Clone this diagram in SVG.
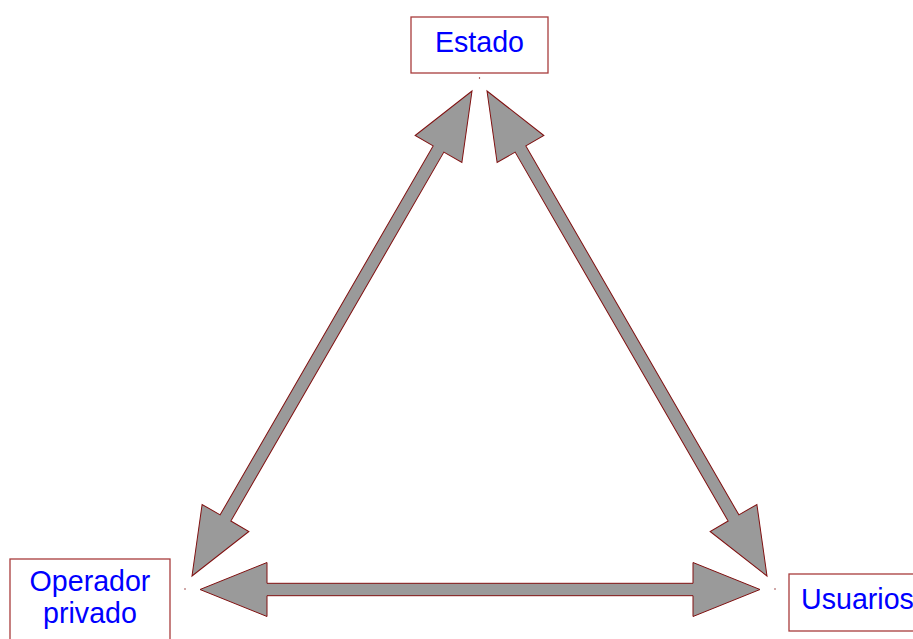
<svg xmlns="http://www.w3.org/2000/svg" xmlns:xlink="http://www.w3.org/1999/xlink" width="913" height="639" viewBox="0 0 913 639">
<style>
.box{fill:#ffffff;stroke:#a83c3c;stroke-width:1.3}
.lbl{font-family:"Liberation Sans",Arial,sans-serif;font-size:28.6px;fill:#0000ff;text-anchor:middle}
.arr{fill:#9a9a9a;stroke:#801010;stroke-width:1}
.dot{fill:#801010}
</style>
<defs>
<path id="dbl" d="M0,0 L67,-27 L67,-6.2 L493,-6.2 L493,-27 L560,0 L493,27 L493,6.2 L67,6.2 L67,27 Z"/>
</defs>
<rect width="913" height="639" fill="#ffffff"/>
<g id="connectors">
<use xlink:href="#dbl" class="arr" transform="translate(472,91) rotate(120)"/>
<use xlink:href="#dbl" class="arr" transform="translate(487,91) rotate(60)"/>
<use xlink:href="#dbl" class="arr" transform="translate(200,589.5)"/>
<circle class="dot" cx="479.5" cy="78" r="0.7"/>
<circle class="dot" cx="185" cy="589" r="0.7"/>
<circle class="dot" cx="775" cy="589" r="0.7"/>
</g>
<g id="estado">
<rect class="box" x="411" y="17" width="137" height="56"/>
<text class="lbl" x="479.5" y="52">Estado</text>
</g>
<g id="operador">
<rect class="box" x="10" y="559" width="160" height="90"/>
<text class="lbl" x="90" y="591">Operador</text>
<text class="lbl" x="90" y="623">privado</text>
</g>
<g id="usuarios">
<rect class="box" x="789" y="574" width="137" height="57"/>
<text class="lbl" x="857.5" y="609">Usuarios</text>
</g>
</svg>
